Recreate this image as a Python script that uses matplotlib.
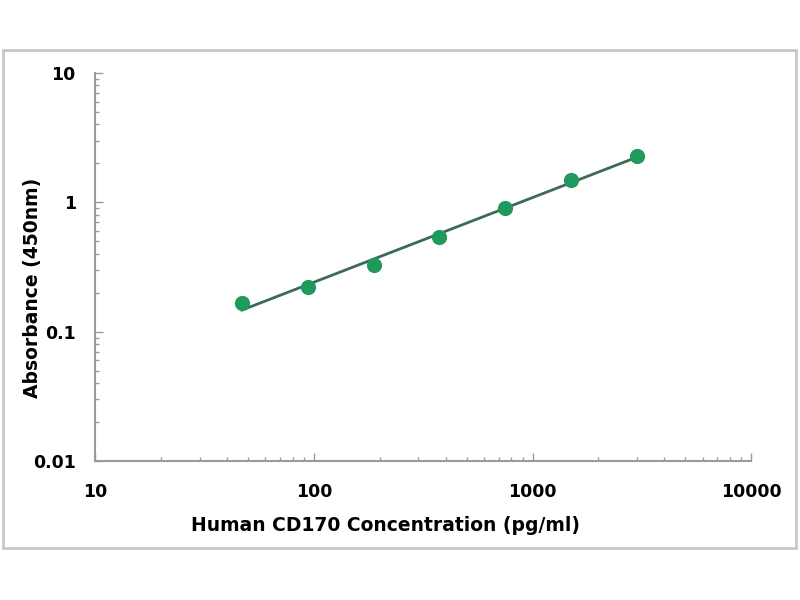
import numpy as np
import matplotlib
matplotlib.use("Agg")
import matplotlib.pyplot as plt
from matplotlib.patches import Rectangle
from matplotlib.ticker import LogLocator, FixedLocator, FixedFormatter, NullFormatter

# standard curve readings
conc = [46.875, 93.75, 187.5, 375, 750, 1500, 3000]
absorb = [0.166, 0.222, 0.328, 0.535, 0.91, 1.50, 2.28]

xticks = [10, 100, 1000, 10000]
xticklabels = ["10", "100", "1000", "10000"]
yticks = [0.01, 0.1, 1, 10]
yticklabels = ["0.01", "0.1", "1", "10"]

green = "#1f9a5c"
line_col = "#3c6a55"
grey = "#9a9a9a"

# log-log fit through the readings
coef = np.polyfit(np.log10(conc), np.log10(absorb), 1)
xfit = np.logspace(np.log10(conc[0]), np.log10(conc[-1]), 100)
yfit = 10 ** np.polyval(coef, np.log10(xfit))

fig = plt.figure(figsize=(8, 6), dpi=100)
ax = fig.add_axes([0.119, 0.2317, 0.82, 0.6467])

ax.plot(xfit, yfit, color=line_col, linewidth=2, zorder=2)
ax.scatter(conc, absorb, s=120, color=green, zorder=3, linewidths=0)

ax.set_xscale("log")
ax.set_yscale("log")
ax.set_xlim(10, 10000)
ax.set_ylim(0.01, 10)

for s in ["top", "right"]:
    ax.spines[s].set_visible(False)
for s in ["left", "bottom"]:
    ax.spines[s].set_color(grey)
    ax.spines[s].set_linewidth(1.5)

ax.xaxis.set_major_locator(FixedLocator(xticks))
ax.xaxis.set_major_formatter(FixedFormatter(xticklabels))
ax.yaxis.set_major_locator(FixedLocator(yticks))
ax.yaxis.set_major_formatter(FixedFormatter(yticklabels))
ax.xaxis.set_minor_locator(LogLocator(base=10, subs=np.arange(2, 10)))
ax.yaxis.set_minor_locator(LogLocator(base=10, subs=np.arange(2, 10)))
ax.xaxis.set_minor_formatter(NullFormatter())
ax.yaxis.set_minor_formatter(NullFormatter())

ax.tick_params(which="major", direction="in", length=6, width=1, color=grey)
ax.tick_params(which="minor", direction="in", length=3, width=1, color=grey)
ax.tick_params(axis="x", which="major", pad=16)
ax.tick_params(axis="y", which="major", pad=14)
for lab in ax.get_xticklabels() + ax.get_yticklabels():
    lab.set_fontweight("bold")
    lab.set_fontsize(12.5)

ax.set_xlabel("Human CD170 Concentration (pg/ml)", fontsize=13.5,
              fontweight="bold")
ax.xaxis.set_label_coords(0.442, -0.142)
ax.set_ylabel("Absorbance (450nm)", fontsize=13.5, fontweight="bold")
ax.yaxis.set_label_coords(-0.081, 0.447)

fig.patches.append(Rectangle((0.004, 0.087), 0.991, 0.83, transform=fig.transFigure,
                             fill=False, edgecolor="#c8c8c8", linewidth=2))

fig.savefig("out.png", dpi=100)
